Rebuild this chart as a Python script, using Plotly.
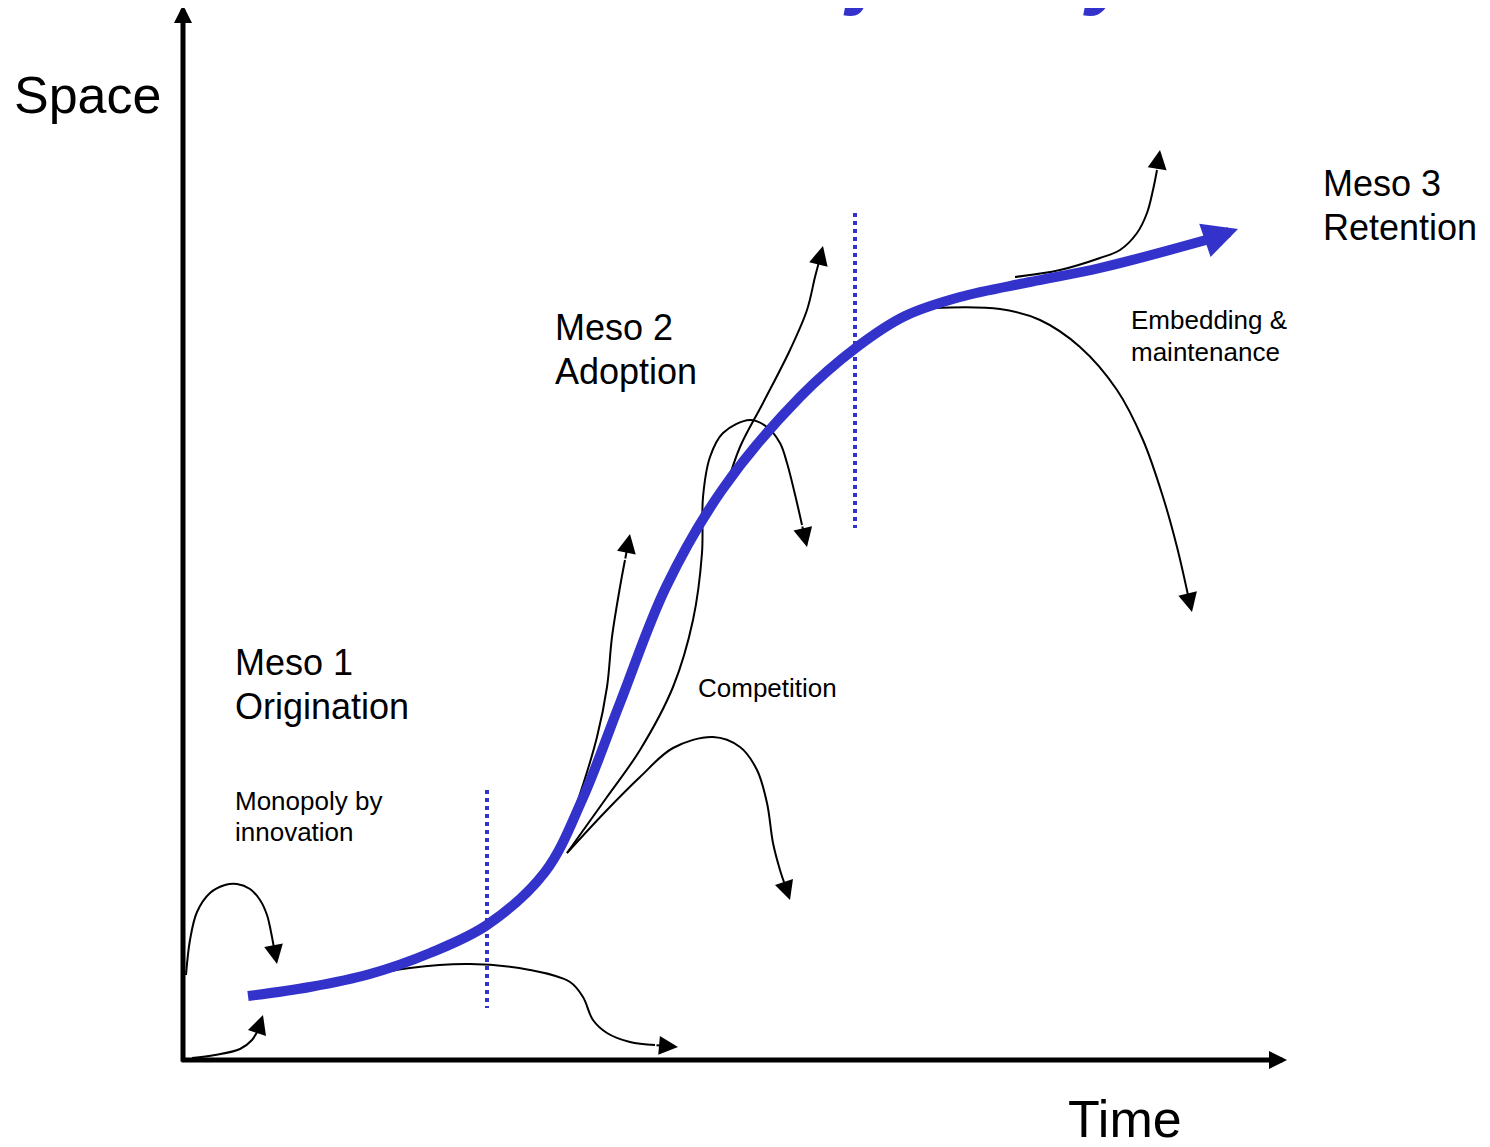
import plotly.graph_objects as go

W, H = 1490, 1147
OFF = 8  # default page margin of the html body
BLUE = "#3333CC"
FONT = "Liberation Sans, Arial, sans-serif"

# ---- main meso trajectory (blue) ----
main_x = [248, 310, 370, 430, 487, 545, 582, 620, 666, 722, 800, 857, 905, 960, 1030, 1100, 1206]
main_y = [996, 987, 974, 953, 925, 872, 800, 703, 587, 490, 397, 347, 316, 297, 282, 268, 240]
main_tip = (1238, 229)

# ---- thin black arrows (curve points; last point is arrow tip) ----
loop_x = [186, 190, 197, 210, 225, 237, 250, 260, 267, 271, 274, 277]
loop_y = [975, 940, 912, 893, 885, 884, 889, 900, 915, 932, 948, 964]

low_x = [192, 215, 240, 252, 258, 263]
low_y = [1058, 1055, 1049, 1040, 1030, 1015]

flat_x = [343, 410, 470, 530, 570, 583, 593, 607, 630, 655, 678]
flat_y = [981, 968, 964, 970, 982, 997, 1020, 1033, 1042, 1045, 1047]

up1_x = [568, 566, 577, 597, 607, 612, 620, 625, 630]
up1_y = [838, 833, 803, 737, 687, 637, 587, 560, 534]

comp_x = [567, 607, 640, 673, 693, 702, 703, 710, 723, 750, 767, 780, 787, 797, 802, 807]
comp_y = [853, 797, 750, 687, 620, 553, 497, 457, 433, 420, 427, 443, 463, 503, 525, 547]

comp2_x = [567, 607, 640, 673, 713, 740, 757, 767, 773, 780, 785, 790]
comp2_y = [853, 810, 777, 748, 737, 747, 770, 803, 843, 870, 885, 900]

up2_x = [727, 740, 763, 790, 807, 815, 819, 823]
up2_y = [485, 447, 403, 350, 310, 277, 262, 246]

ret_up_x = [1015, 1060, 1100, 1120, 1137, 1147, 1153, 1157, 1160]
ret_up_y = [277, 270, 258, 250, 233, 213, 190, 170, 150]

ret_dn_x = [933, 1000, 1040, 1080, 1117, 1143, 1163, 1177, 1188, 1192]
ret_dn_y = [308, 309, 320, 347, 390, 440, 497, 547, 595, 612]

thin_curves = [
    (loop_x, loop_y), (low_x, low_y), (flat_x, flat_y), (up1_x, up1_y),
    (comp_x, comp_y), (comp2_x, comp2_y), (up2_x, up2_y),
    (ret_up_x, ret_up_y), (ret_dn_x, ret_dn_y),
]

# ---- phase boundaries (dotted) ----
div1_x = [487, 487]
div1_y = [790, 1008]
div2_x = [855, 855]
div2_y = [213, 528]

# ---- axes ----
yaxis_tail = (183, 1063)
yaxis_tip = (183, 5)
xaxis_tail = (180, 1060)
xaxis_tip = (1287, 1060)

# ---- labels: (text, x, y, size) ----
labels = [
    ("Space", 12, 95, 52),
    ("Time", 1066, 1119, 52),
    ("Meso 1", 233, 662, 36),
    ("Origination", 233, 706, 36),
    ("Monopoly by", 233, 801, 26),
    ("innovation", 233, 832, 26),
    ("Meso 2", 553, 327, 36),
    ("Adoption", 553, 371, 36),
    ("Competition", 696, 688, 26),
    ("Meso 3", 1321, 183, 36),
    ("Retention", 1321, 227, 36),
    ("Embedding &", 1129, 320, 26),
    ("maintenance", 1129, 352, 26),
]
title_text = "Meso trajectory"

fig = go.Figure()

# dotted dividers
for dx, dy in [(div1_x, div1_y), (div2_x, div2_y)]:
    fig.add_trace(go.Scatter(x=dx, y=dy, mode="lines",
                             line=dict(color=BLUE, width=4, dash="4px,4px"),
                             hoverinfo="skip", showlegend=False))

# thin curves (all but last point; the arrow annotation draws the tip)
annotations = []
for cx, cy in thin_curves:
    fig.add_trace(go.Scatter(x=cx[:-1], y=cy[:-1], mode="lines",
                             line=dict(color="black", width=2, shape="spline", smoothing=1.0),
                             hoverinfo="skip", showlegend=False))
    annotations.append(dict(x=cx[-1], y=cy[-1], ax=cx[-2], ay=cy[-2],
                            xref="x", yref="y", axref="x", ayref="y",
                            text="", showarrow=True, arrowhead=2,
                            arrowwidth=2, arrowsize=1.9, arrowcolor="black"))

# main blue curve
fig.add_trace(go.Scatter(x=main_x, y=main_y, mode="lines",
                         line=dict(color=BLUE, width=10, shape="spline", smoothing=1.0),
                         hoverinfo="skip", showlegend=False))
annotations.append(dict(x=main_tip[0], y=main_tip[1], ax=main_x[-1], ay=main_y[-1],
                        xref="x", yref="y", axref="x", ayref="y",
                        text="", showarrow=True, arrowhead=2,
                        arrowwidth=10, arrowsize=0.7, arrowcolor=BLUE))

# axes arrows
for tail, tip in [(yaxis_tail, yaxis_tip), (xaxis_tail, xaxis_tip)]:
    annotations.append(dict(x=tip[0], y=tip[1], ax=tail[0], ay=tail[1],
                            xref="x", yref="y", axref="x", ayref="y",
                            text="", showarrow=True, arrowhead=2,
                            arrowwidth=5, arrowsize=0.72, arrowcolor="black"))

for txt, lx, ly, sz in labels:
    annotations.append(dict(x=lx, y=ly, xref="x", yref="y", text=txt,
                            showarrow=False, xanchor="left", yanchor="middle",
                            font=dict(family=FONT, size=sz, color="black")))

FH = H - OFF
# title, mostly above the visible page (only descenders show)
annotations.append(dict(x=497, y=1 - 10 / FH, xref="x", yref="paper",
                        text="<b><i>" + title_text + "</i></b>",
                        showarrow=False, xanchor="left", yanchor="bottom",
                        font=dict(family=FONT, size=86, color=BLUE)))

fig.update_layout(
    width=W - OFF, height=FH,
    margin=dict(l=0, r=0, t=0, b=0),
    paper_bgcolor="white", plot_bgcolor="white",
    xaxis=dict(range=[OFF, W], visible=False, fixedrange=True),
    yaxis=dict(range=[H, OFF], visible=False, fixedrange=True),
    annotations=annotations,
    showlegend=False,
)

fig.write_html("out.html")
